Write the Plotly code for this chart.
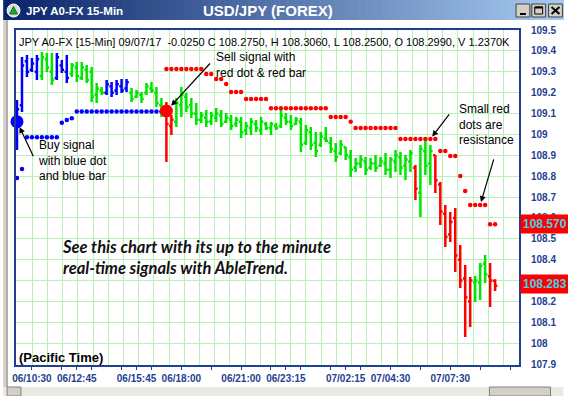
import plotly.graph_objects as go

# ---------------- data ----------------
bar_index = list(range(97))
bar_high = [109.165, 109.371, 109.380, 109.366, 109.380, 109.395, 109.390, 109.390, 109.390, 109.356,
            109.380, 109.342, 109.347, 109.347, 109.332, 109.323, 109.246, 109.227, 109.260, 109.251,
            109.260, 109.265, 109.265, 109.222, 109.213, 109.203, 109.246, 109.251, 109.227, 109.174,
            109.155, 109.093, 109.174, 109.227, 109.198, 109.174, 109.150, 109.107, 109.117, 109.107,
            109.126, 109.117, 109.102, 109.093, 109.083, 109.083, 109.059, 109.078, 109.069, 109.083,
            109.059, 109.059, 109.054, 109.117, 109.102, 109.093, 109.083, 109.078, 109.045, 109.035,
            109.011, 109.011, 109.035, 108.987, 108.959, 108.973, 108.940, 108.925, 108.887, 108.901,
            108.892, 108.887, 108.901, 108.892, 108.911, 108.892, 108.925, 108.916, 108.901, 108.925,
            108.853, 108.949, 108.973, 108.949, 108.901, 108.772, 108.662, 108.628, 108.647, 108.470,
            108.374, 108.317, 108.322, 108.384, 108.422, 108.384, 108.306]
bar_low = [108.925, 109.107, 109.275, 109.299, 109.260, 109.260, 109.299, 109.237, 109.260, 109.294,
           109.246, 109.275, 109.251, 109.260, 109.246, 109.155, 109.150, 109.189, 109.189, 109.179,
           109.189, 109.198, 109.203, 109.155, 109.174, 109.150, 109.189, 109.198, 109.131, 109.083,
           108.868, 108.997, 109.035, 109.083, 109.107, 109.078, 109.045, 109.054, 109.035, 109.045,
           109.059, 109.035, 109.054, 109.021, 109.035, 108.983, 108.997, 108.997, 109.011, 108.997,
           109.021, 108.997, 109.021, 109.031, 109.045, 109.021, 109.045, 108.916, 108.949, 108.925,
           108.892, 108.940, 108.963, 108.911, 108.868, 108.901, 108.877, 108.796, 108.820, 108.839,
           108.805, 108.829, 108.820, 108.844, 108.805, 108.791, 108.820, 108.805, 108.781, 108.820,
           108.686, 108.604, 108.805, 108.757, 108.719, 108.566, 108.460, 108.484, 108.341, 108.264,
           108.029, 108.077, 108.197, 108.207, 108.288, 108.173, 108.250]
bar_open = [108.96, 109.14, 109.35, 109.31, 109.30, 109.28, 109.36, 109.30, 109.27, 109.33,
            109.30, 109.29, 109.32, 109.27, 109.31, 109.30, 109.19, 109.21, 109.20, 109.23,
            109.21, 109.23, 109.22, 109.20, 109.18, 109.19, 109.20, 109.22, 109.20, 109.14,
            109.11, 109.04, 109.06, 109.14, 109.18, 109.14, 109.10, 109.07, 109.08, 109.06,
            109.08, 109.09, 109.06, 109.07, 109.05, 109.06, 109.02, 109.03, 109.05, 109.02,
            109.05, 109.03, 109.04, 109.04, 109.08, 109.06, 109.05, 109.06, 108.96, 109.01,
            108.96, 108.95, 108.98, 108.96, 108.92, 108.91, 108.94, 108.89, 108.84, 108.86,
            108.87, 108.84, 108.86, 108.85, 108.86, 108.83, 108.87, 108.89, 108.85, 108.87,
            108.84, 108.72, 108.92, 108.86, 108.90, 108.76, 108.62, 108.52, 108.60, 108.40,
            108.31, 108.20, 108.29, 108.29, 108.38, 108.32, 108.299]
bar_close = [109.12, 109.33, 109.30, 109.34, 109.36, 109.37, 109.32, 109.26, 109.37, 109.31,
             109.27, 109.33, 109.28, 109.32, 109.26, 109.18, 109.22, 109.20, 109.24, 109.20,
             109.24, 109.21, 109.25, 109.17, 109.20, 109.17, 109.23, 109.21, 109.15, 109.10,
             109.05, 109.07, 109.15, 109.19, 109.13, 109.10, 109.07, 109.09, 109.06, 109.09,
             109.10, 109.05, 109.08, 109.04, 109.07, 109.01, 109.04, 109.06, 109.03, 109.06,
             109.03, 109.05, 109.03, 109.09, 109.06, 109.04, 109.07, 108.95, 109.02, 108.95,
             108.92, 108.99, 108.97, 108.93, 108.89, 108.95, 108.90, 108.83, 108.86, 108.88,
             108.83, 108.86, 108.84, 108.87, 108.83, 108.88, 108.90, 108.84, 108.88, 108.91,
             108.74, 108.93, 108.85, 108.92, 108.78, 108.63, 108.51, 108.58, 108.42, 108.30,
             108.22, 108.30, 108.30, 108.37, 108.33, 108.30, 108.275]
# B = buy (blue), G = hold (green), R = sell (red)
bar_signal = ("BBBBBGGGBBBGGGGGGGBBBBBGGGGGGGRR"
              "GGGGGGGGGGGGGGGGGGGGGGGGGGGGGGGGGGGGGGGGGGGGGGGG"
              "RGGGRRRRRRRRGGGRR")

support_idx = [0, 1, 2, 3, 4, 5, 6, 7, 8, 9, 10, 11, 12, 13, 14, 15, 16, 17, 18, 19,
               20, 21, 22, 23, 24, 25, 26, 27, 28, 29]
support_val = [108.791, 108.834, 108.986, 108.986, 108.986, 108.986, 108.986, 108.986, 108.986, 109.056,
               109.069, 109.077, 109.109, 109.109, 109.109, 109.109, 109.109, 109.109, 109.109, 109.109,
               109.109, 109.109, 109.109, 109.109, 109.109, 109.109, 109.109, 109.109, 109.109, 109.109]

resist_idx = list(range(30, 97))
resist_val = [109.313, 109.313, 109.313, 109.313, 109.313, 109.313, 109.313, 109.313,
              109.289, 109.289, 109.265, 109.265, 109.241, 109.203, 109.203, 109.203,
              109.170, 109.170, 109.170, 109.170, 109.170,
              109.125, 109.125, 109.125, 109.125, 109.125, 109.125, 109.125, 109.125, 109.125, 109.125,
              109.125, 109.125,
              109.083, 109.083, 109.083, 109.083, 109.060,
              109.031, 109.031, 109.031, 109.031, 109.031, 109.031, 109.031, 109.031, 109.031,
              108.978, 108.978, 108.978, 108.978, 108.978, 108.978, 108.978, 108.978,
              108.920, 108.920, 108.897, 108.897, 108.801, 108.729,
              108.662, 108.662, 108.662, 108.662, 108.570, 108.570]

buy_signal_idx, buy_signal_val = 0, 109.061
sell_signal_idx, sell_signal_val = 30, 109.112

x_tick_idx = [3, 12, 24, 33, 45, 54, 66, 75, 87]
x_tick_text = ["06/10:30", "06/12:45", "06/15:45", "06/18:00", "06/21:00",
               "06/23:15", "07/02:15", "07/04:30", "07/07:30"]
x_minor_idx = [9, 15, 21, 27, 39, 51, 57, 63, 69, 81, 93, 99]

# 108.3 sits fully behind the last-price box in the reference
y_tick_vals = [107.9, 108.0, 108.1, 108.2, 108.4, 108.5, 108.6, 108.7, 108.8,
               108.9, 109.0, 109.1, 109.2, 109.3, 109.4, 109.5]
y_tick_text = ["107.9", "108", "108.1", "108.2", "108.4", "108.5", "108.6", "108.7", "108.8",
               "108.9", "109", "109.1", "109.2", "109.3", "109.4", "109.5"]

price_labels = [108.570, 108.283]
price_label_text = ["108.570", "108.283"]

info_text = ("JPY A0-FX [15-Min] 09/07/17 \u00a0-0.0250 C 108.2750, H 108.3060, "
             "L 108.2500, O 108.2990, V 1.2370K")

# ---------------- styling / layout helpers ----------------
FW, FH = 568, 396
L, R, T, B = 13, 45, 30, 31
PW, PH = FW - L - R, FH - T - B
NAVY = "#1f3f8f"
GRID = "#b8f0b8"
ARIAL = "Liberation Sans, Arial, sans-serif"
COLORS = {"B": "#0000ff", "G": "#00e600", "R": "#ff0000"}


def pxx(x):
    return (x - L) / PW


def pxy(y):
    return (FH - B - y) / PH


fig = go.Figure()

for key in "BGR":
    sel = [i for i, s in enumerate(bar_signal) if s == key]
    fig.add_trace(go.Ohlc(
        x=[bar_index[i] for i in sel],
        open=[bar_open[i] for i in sel],
        high=[bar_high[i] for i in sel],
        low=[bar_low[i] for i in sel],
        close=[bar_close[i] for i in sel],
        increasing=dict(line=dict(color=COLORS[key], width=2.5)),
        decreasing=dict(line=dict(color=COLORS[key], width=2.5)),
        tickwidth=0.45, hoverinfo="skip", showlegend=False,
        xaxis="x", yaxis="y"))

fig.add_trace(go.Scatter(x=support_idx, y=support_val, mode="markers",
                         marker=dict(color="#0000ff", size=4.5), hoverinfo="skip",
                         showlegend=False, xaxis="x2", yaxis="y"))
fig.add_trace(go.Scatter(x=resist_idx, y=resist_val, mode="markers",
                         marker=dict(color="#ff0000", size=4.5), hoverinfo="skip",
                         showlegend=False, xaxis="x2", yaxis="y"))
fig.add_trace(go.Scatter(x=[buy_signal_idx], y=[buy_signal_val], mode="markers",
                         marker=dict(color="#0000ff", size=13), cliponaxis=False,
                         hoverinfo="skip", showlegend=False, xaxis="x2", yaxis="y"))
fig.add_trace(go.Scatter(x=[sell_signal_idx], y=[sell_signal_val], mode="markers",
                         marker=dict(color="#ff0000", size=13), cliponaxis=False,
                         hoverinfo="skip", showlegend=False, xaxis="x2", yaxis="y"))

xr = [-0.2, 100.8]
yr = [109.5 - PH / 208.75, 109.5]

all_tick_vals = x_tick_idx + x_minor_idx
all_tick_text = ["<b>" + s + "</b>" for s in x_tick_text] + [""] * len(x_minor_idx)

shapes = []


def rect(x0, y0, x1, y1, fill, line=None, lw=0):
    shapes.append(dict(type="rect", xref="paper", yref="paper",
                       x0=pxx(x0), x1=pxx(x1), y0=pxy(y1), y1=pxy(y0),
                       fillcolor=fill, line=dict(color=line or fill, width=lw), layer="above"))


def seg(x0, y0, x1, y1, color, w):
    shapes.append(dict(type="line", xref="paper", yref="paper",
                       x0=pxx(x0), x1=pxx(x1), y0=pxy(y0), y1=pxy(y1),
                       line=dict(color=color, width=w), layer="above"))


# title bar gradient
c0, c1 = (10, 36, 106), (166, 202, 240)
n = 71
for k in range(n):
    t = k / (n - 1)
    col = "rgb(%d,%d,%d)" % tuple(round(a + (b - a) * t) for a, b in zip(c0, c1))
    rect(k * 8, 0, k * 8 + 8.6, 20, col)
# window frame pieces
rect(0, 20, 4, 396, "#d4d0c8")
seg(4, 20, 4, 396, "#808080", 1)
rect(0, 387, 568, 396, "#ebe9e4")
rect(4, 387, 18, 396, "#d4d0c8", "#808080", 1)
rect(493, 387, 555, 396, "#d4d0c8", "#808080", 1)
# window buttons
for bx in (520, 536, 553):
    rect(bx, 4, bx + 14, 17, "#d4d0c8", "#404040", 1)
rect(524, 13, 530, 15, "#000000")
rect(539, 7, 547, 14, "rgba(0,0,0,0)", "#000000", 1)
seg(539, 7.5, 547, 7.5, "#000000", 2)
seg(556, 7, 564, 14, "#000000", 2)
seg(564, 7, 556, 14, "#000000", 2)
# title icon
shapes.append(dict(type="circle", xref="paper", yref="paper",
                   x0=pxx(4), x1=pxx(17), y0=pxy(17), y1=pxy(4),
                   fillcolor="#d8dde4", line=dict(color="#ffffff", width=1), layer="above"))
shapes.append(dict(type="path", xref="paper", yref="paper", layer="above",
                   path="M %f %f L %f %f L %f %f Z" % (pxx(10.5), pxy(6.5), pxx(14.5), pxy(14),
                                                        pxx(6.5), pxy(14)),
                   fillcolor="#22a822", line=dict(color="#117711", width=1)))

ann = []


def text(x, y, s, size, color="black", bold=False, italic=False, family=ARIAL,
         xanchor="left"):
    if italic:
        s = "<i>" + s.replace("<br>", "</i><br><i>") + "</i>"
    if bold:
        s = "<b>" + s.replace("<br>", "</b><br><b>") + "</b>"
    ann.append(dict(x=pxx(x), y=pxy(y), xref="paper", yref="paper", text=s,
                    showarrow=False, xanchor=xanchor, yanchor="middle", align="left",
                    font=dict(family=family, size=size, color=color)))


text(21, 11, "JPY A0-FX 15-Min", 11.5, "white", bold=True)
text(269, 11, "USD/JPY (FOREX)", 15, "white", bold=True, xanchor="center")
text(14, 42, info_text, 11)
text(214, 65, "Sell signal with<br>red dot &amp; red bar", 12)
text(33, 160.5, "Buy signal<br>with blue dot<br>and blue bar", 12)
text(460, 124, "Small red<br>dots are<br>resistance", 12)
text(58, 257.5, "See this chart with its up to the minute<br>real-time signals with AbleTrend.", 16.5,
     "#111111", bold=True, italic=True, family="Lato, Open Sans, sans-serif")
text(14, 357, "(Pacific Time)", 13, bold=True)

for v, s in zip(price_labels, price_label_text):
    ann.append(dict(x=1, y=v, xref="paper", yref="y", text="<b>" + s + "</b>",
                    showarrow=False, xanchor="left", yanchor="middle", xshift=1,
                    bgcolor="#ff0000", borderpad=2,
                    font=dict(family=ARIAL, size=12, color="#3fd2e4")))


def arrow(xi, yv, ax, ay, standoff):
    ann.append(dict(x=xi, y=yv, xref="x2", yref="y", text="", showarrow=True,
                    ax=ax, ay=ay, arrowhead=2, arrowsize=1, arrowwidth=1.2,
                    arrowcolor="#000000", standoff=standoff))


arrow(sell_signal_idx, sell_signal_val, 45, -49, 7)
arrow(buy_signal_idx, buy_signal_val, 17, 36, 6)
arrow(resist_idx[53], resist_val[53], 20, -26, 3)
arrow(resist_idx[63], resist_val[63], 14, -47, 3)

tickfont = dict(family=ARIAL, size=10, color=NAVY)
fig.update_layout(
    width=FW, height=FH, margin=dict(l=L, r=R, t=T, b=B),
    paper_bgcolor="white", plot_bgcolor="white", showlegend=False,
    xaxis=dict(range=xr, rangeslider=dict(visible=False), tickmode="linear", tick0=0,
               dtick=3.053, showgrid=True, gridcolor=GRID, gridwidth=1,
               showticklabels=False, ticks="", showline=True, mirror=True,
               linecolor=NAVY, linewidth=2, zeroline=False, fixedrange=True),
    xaxis2=dict(overlaying="x", anchor="y", side="bottom", range=xr, tickmode="array",
                tickvals=all_tick_vals, ticktext=all_tick_text, ticks="outside",
                ticklen=4, tickcolor=NAVY, tickwidth=1, showgrid=False, showline=False,
                zeroline=False, tickfont=tickfont, fixedrange=True),
    yaxis=dict(range=yr, side="right", tickmode="array", tickvals=y_tick_vals,
               ticktext=["<b>" + s + "</b>" for s in y_tick_text], showgrid=False,
               ticks="outside", ticklen=8,
               tickcolor="rgba(0,0,0,0)", showline=True, mirror=True, linecolor=NAVY,
               linewidth=2, zeroline=False, tickfont=tickfont, fixedrange=True),
    shapes=shapes, annotations=ann,
)
# horizontal grid every 0.1 (including the level hidden behind the price box)
fig.update_layout(yaxis2=dict(overlaying="y", side="right", range=yr, tickmode="linear",
                              tick0=107.9, dtick=0.1, showgrid=True, gridcolor=GRID,
                              gridwidth=1, showticklabels=False, ticks="", showline=False,
                              zeroline=False, fixedrange=True))
fig.add_trace(go.Scatter(x=[], y=[], xaxis="x", yaxis="y2", showlegend=False,
                         hoverinfo="skip"))

fig.write_html("out.html", config={"displayModeBar": False})
